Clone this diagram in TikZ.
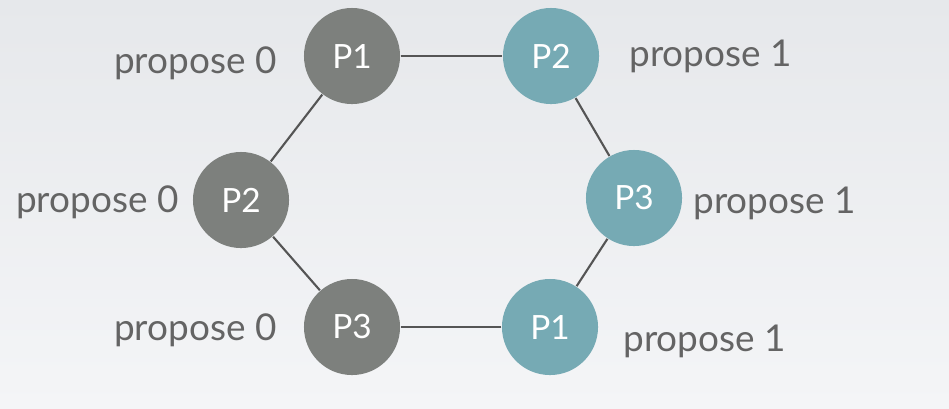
\documentclass[tikz,border=0pt]{standalone}
\usepackage{fontspec}
\setmainfont{Lato}
\usetikzlibrary{positioning}
\definecolor{procgray}{RGB}{125,128,125}
\definecolor{procteal}{RGB}{118,170,180}
\definecolor{labelgray}{RGB}{100,100,100}
\definecolor{edgegray}{RGB}{85,85,85}
\definecolor{bgtop}{RGB}{230,232,235}
\definecolor{bgbot}{RGB}{244,245,247}
\tikzset{
  proc/.style={circle, minimum size=0.96cm, inner sep=0pt, text=white, font=\fontsize{9.5}{11}\selectfont},
  zero/.style={proc, fill=procgray},
  one/.style={proc, fill=procteal},
  vote/.style={text=labelgray, font=\fontsize{10.5}{12}\selectfont, inner sep=0pt},
  link/.style={edgegray, line width=0.6pt}
}
\begin{document}
\begin{tikzpicture}[x=0.01cm, y=-0.01cm]
\shade[top color=bgtop, bottom color=bgbot] (0,0) rectangle (949,408);
\useasboundingbox (0,0) rectangle (949,408);

% left ring, all propose 0
\node[zero] (a1) at (352,56) {P1};
\node[zero] (a2) at (241,200) {P2};
\node[zero] (a3) at (352,327) {P3};
% right ring, all propose 1
\node[one] (b2) at (551,56) {P2};
\node[one] (b3) at (634,198) {P3};
\node[one] (b1) at (550,327) {P1};

\draw[link] (a1) -- (b2);
\draw[link] (b2) -- (b3);
\draw[link] (b3) -- (b1);
\draw[link] (b1) -- (a3);
\draw[link] (a3) -- (a2);
\draw[link] (a2) -- (a1);

\node[vote, left=0.26cm of a1, yshift=-0.075cm] (va1) {propose 0};
\node[vote, left=0.13cm of a2, yshift=-0.02cm] (va2) {propose 0};
\node[vote, left=0.26cm of a3, yshift=-0.03cm] (va3) {propose 0};
\node[vote, right=0.29cm of b2] (vb2) {propose 1};
\node[vote, right=0.10cm of b3, yshift=-0.05cm] (vb3) {propose 1};
\node[vote, right=0.24cm of b1, yshift=-0.14cm] (vb1) {propose 1};
\end{tikzpicture}
\end{document}
